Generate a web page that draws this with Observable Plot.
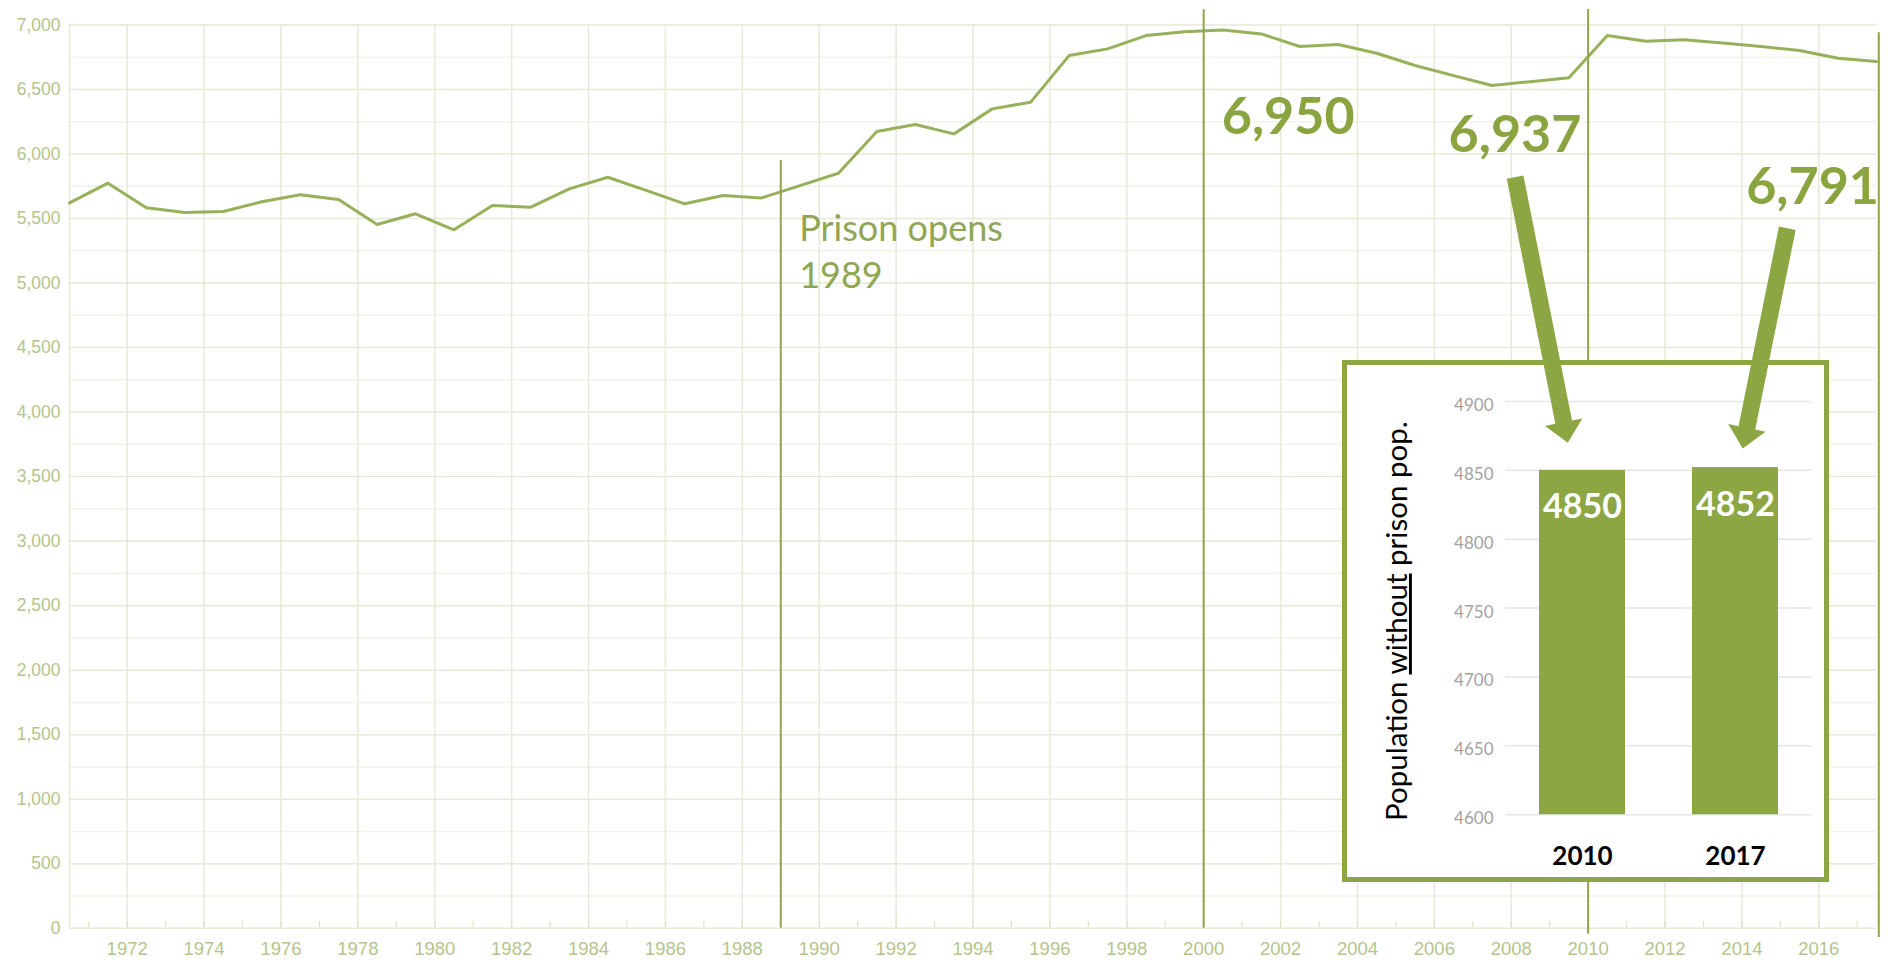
<!DOCTYPE html>
<html>
<head>
<meta charset="utf-8">
<script src="https://cdn.jsdelivr.net/npm/d3@7"></script>
<script src="https://cdn.jsdelivr.net/npm/@observablehq/plot@0.6"></script>
<style>
html, body { margin: 0; padding: 0; background: #fff; overflow: hidden; }
#wrap { position: relative; width: 1892px; height: 960px; }
#inset { position: absolute; left: 1342px; top: 360px; width: 487px; height: 522px;
  border: 5px solid #8da644; box-sizing: border-box; background: #fff; }
#overlay { position: absolute; left: 0; top: 0; pointer-events: none; }
</style>
</head>
<body>
<div id="wrap"><div id="main"></div><div id="inset"></div><div id="overlay"></div></div>
<script>
// ---------- data ----------
const years = [1970, 1971, 1972, 1973, 1974, 1975, 1976, 1977, 1978, 1979,
  1980, 1981, 1982, 1983, 1984, 1985, 1986, 1987, 1988, 1989,
  1990, 1991, 1992, 1993, 1994, 1995, 1996, 1997, 1998, 1999,
  2000, 2001, 2002, 2003, 2004, 2005, 2006, 2007, 2008, 2009,
  2010, 2011, 2012, 2013, 2014, 2015, 2016, 2017];
const population = [5622, 5774, 5583, 5547, 5554, 5630, 5684, 5647, 5454, 5537,
  5413, 5601, 5588, 5730, 5820, 5718, 5614, 5678, 5660, 5755,
  5851, 6174, 6229, 6156, 6350, 6402, 6763, 6815, 6918, 6947,
  6962, 6931, 6833, 6849, 6781, 6686, 6608, 6531, 6561, 6591,
  6918, 6874, 6885, 6860, 6833, 6802, 6743, 6717];

const yTicks = [0, 500, 1000, 1500, 2000, 2500, 3000, 3500, 4000, 4500, 5000, 5500, 6000, 6500, 7000];
const yMinor = [250, 750, 1250, 1750, 2250, 2750, 3250, 3750, 4250, 4750, 5250, 5750, 6250, 6750];
const xLabelYears = [1972, 1974, 1976, 1978, 1980, 1982, 1984, 1986, 1988, 1990, 1992, 1994,
  1996, 1998, 2000, 2002, 2004, 2006, 2008, 2010, 2012, 2014, 2016];
const xDomain = [1970.5, 2017.5];
const yDomain = [0, 7000];

// vertical marker lines
const markerX = [1989, 2000, 2010, 2017.56];
const markerTop = [5950, 7118, 7120, 6940];
const markerBottom = [0, 0, -46, -72];

// annotation texts
const prisonLabel = "Prison opens\n1989";
const prisonLabelX = 1989.48, prisonLabelY = 4963;
const bigLabels = ["6,950", "6,937", "6,791"];
const bigLabelX = [2000.47, 2006.37, 2014.11];
const bigLabelY = [6157, 6014, 5609];

// arrows (main chart coordinates)
const arrowFromX = [2008.10, 2015.18];
const arrowFromY = [5821, 5425];
const arrowToX = [2009.47, 2014.02];
const arrowToY = [3762, 3718];

// inset bar chart
const insetYears = ["2010", "2017"];
const insetValues = [4850, 4852];
const insetTicks = [4600, 4650, 4700, 4750, 4800, 4850, 4900];
const insetDomain = [4600, 4900];
const insetTitle = "Population without prison pop.";

// ---------- styles ----------
const lineColor = "#97b05a";
const ruleColor = "#8ea54e";
const accent = "#8aa43f";
const barColor = "#8da644";
const axisColor = "#b5c48a";
const gridMajor = "#e6ead6";
const gridMinor = "#f1f3e8";

const series = years.map((y, i) => ({year: y, pop: population[i]}));
const tickYears = years.slice(1);
const markers = markerX.map((x, i) => ({x, y1: markerBottom[i], y2: markerTop[i]}));
const bigs = bigLabels.map((t, i) => ({t, x: bigLabelX[i], y: bigLabelY[i]}));
const thousands = d3.format(",");

const W = 1892, H = 960;
const M = {marginLeft: 69, marginRight: 16, marginTop: 24.5, marginBottom: 32.3};

const main = Plot.plot({
  width: W, height: H, ...M,
  x: {domain: xDomain},
  y: {domain: yDomain},
  style: {fontFamily: "'Liberation Sans', Arial, sans-serif", fontSize: "17px", background: "#fff"},
  marks: [
    Plot.ruleY(yMinor, {stroke: gridMinor, strokeWidth: 1.5}),
    Plot.ruleY(yTicks, {stroke: gridMajor, strokeWidth: 1.5}),
    Plot.ruleX(xLabelYears, {stroke: gridMajor, strokeWidth: 1.5}),
    Plot.ruleX([xDomain[0]], {stroke: gridMajor, strokeWidth: 1.5}),
    Plot.ruleX(tickYears, {y1: 0, y2: 50, stroke: "#dbe1c6", strokeWidth: 1.2}),
    Plot.axisY(yTicks, {tickSize: 0, tickPadding: 9, tickFormat: d => thousands(d), color: axisColor,
      fontSize: 17.5, label: null}),
    Plot.axisX(xLabelYears, {tickSize: 0, tickPadding: 14, tickFormat: d => String(d), color: axisColor,
      fontSize: 18.5, label: null}),
    Plot.line(series, {x: d => d.year + 0.5, y: "pop", stroke: lineColor, strokeWidth: 3}),
    Plot.ruleX(markers, {x: "x", y1: "y1", y2: "y2", stroke: ruleColor, strokeWidth: 2}),
    Plot.text([prisonLabel], {x: prisonLabelX, y: prisonLabelY, text: d => d, textAnchor: "start",
      lineAnchor: "bottom", lineHeight: 1.29, fill: "#8fa653", fontFamily: "Lato", fontSize: 36}),
    Plot.text(bigs, {x: "x", y: "y", text: "t", textAnchor: "start", lineAnchor: "bottom",
      fill: accent, fontFamily: "Lato", fontWeight: "bold", fontSize: 52})
  ]
});
document.getElementById("main").appendChild(main);

// ---------- inset ----------
const insetData = insetYears.map((y, i) => ({year: y, value: insetValues[i]}));
const inset = Plot.plot({
  width: 477, height: 512,
  marginLeft: 158, marginRight: 12.3, marginTop: 36, marginBottom: 62.8,
  x: {domain: insetYears, type: "band", paddingInner: 0.44, paddingOuter: 0.22},
  y: {domain: insetDomain},
  style: {fontFamily: "Lato, sans-serif", background: "#fff"},
  marks: [
    Plot.ruleY(insetTicks, {stroke: "#e6e6e6", strokeWidth: 1.5}),
    Plot.axisY(insetTicks, {tickSize: 0, tickPadding: 12, dy: 4, tickFormat: d => String(d),
      color: "#a3a3a3", fontSize: 17, label: null}),
    Plot.axisX({tickSize: 0, tickPadding: 32, color: "#000", fontSize: 26, fontWeight: "bold", label: null}),
    Plot.barY(insetData, {x: "year", y1: insetDomain[0], y2: "value", fill: barColor}),
    Plot.text(insetData, {x: "year", y: "value", text: d => String(d.value), dy: 48, lineAnchor: "bottom",
      fill: "#fff", fontWeight: "bold", fontSize: 34}),
    Plot.text([insetTitle], {frameAnchor: "left", rotate: -90, dx: -108, dy: 13, text: d => d,
      fill: "#000", fontSize: 29.5, textAnchor: "middle"})
  ]
});
document.getElementById("inset").appendChild(inset);
d3.select(inset).selectAll("text").filter(function () { return this.textContent === insetTitle; })
  .each(function () {
    const t = d3.select(this);
    t.text(null);
    t.append("tspan").text("Population ");
    t.append("tspan").attr("text-decoration", "underline").style("text-decoration", "underline").text("without");
    t.append("tspan").text(" prison pop.");
  });

// ---------- arrows overlay ----------
const sx = main.scale("x"), sy = main.scale("y");
const arrowShape = {
  draw(context, l) {
    const w = 8.5, hw = 19, hl = 21;
    context.moveTo(-w, 0);
    context.lineTo(-w, -l + hl);
    context.lineTo(-hw, -l + hl);
    context.lineTo(0, -l);
    context.lineTo(hw, -l + hl);
    context.lineTo(w, -l + hl);
    context.lineTo(w, 0);
    context.closePath();
  }
};
const arrowMarks = arrowFromX.map((fx, i) => {
  const x0 = sx.apply(fx), y0 = sy.apply(arrowFromY[i]);
  const x1 = sx.apply(arrowToX[i]), y1 = sy.apply(arrowToY[i]);
  const len = Math.hypot(x1 - x0, y1 - y0);
  const ang = Math.atan2(x1 - x0, -(y1 - y0)) * 180 / Math.PI;
  return Plot.vector([{x: arrowToX[i], y: arrowToY[i]}], {
    x: "x", y: "y", length: len, rotate: ang, anchor: "end", shape: arrowShape,
    fill: barColor, stroke: "none"
  });
});
const overlay = Plot.plot({
  width: W, height: H, ...M,
  x: {domain: xDomain, axis: null},
  y: {domain: yDomain, axis: null},
  style: {background: "transparent"},
  marks: arrowMarks
});
document.getElementById("overlay").appendChild(overlay);
</script>
</body>
</html>
